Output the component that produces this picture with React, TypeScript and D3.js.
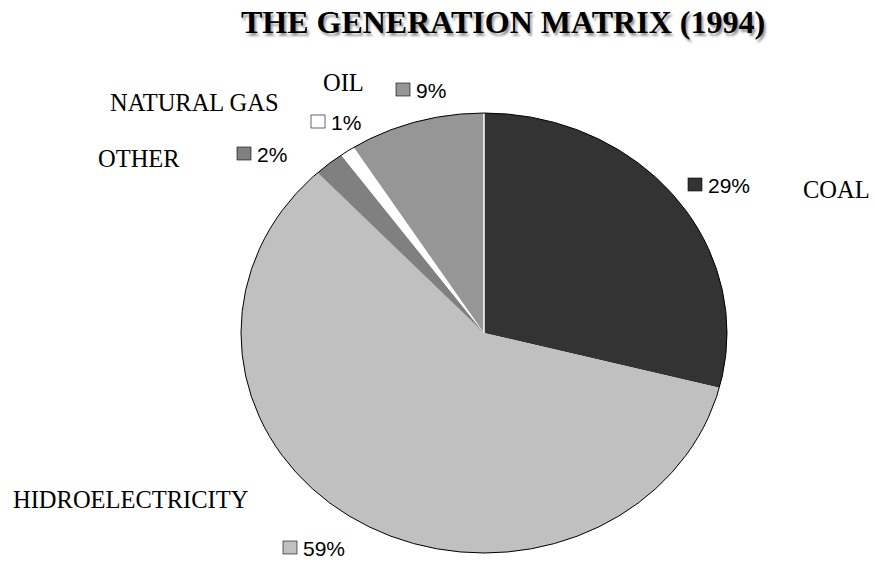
import * as d3 from 'd3';

// generation matrix shares, clockwise from 12 o'clock
const sources = ['COAL', 'HIDROELECTRICITY', 'OTHER', 'NATURAL GAS', 'OIL'];
const shares = [29, 59, 2, 1, 9];
const fills = ['#333333', '#c0c0c0', '#808080', '#ffffff', '#969696'];

// label layout: name baseline position, legend box position
const nameAt: [number, number][] = [[803, 198], [13, 508], [98, 167], [110, 111], [323, 91]];
const boxAt: [number, number][] = [[688, 178], [283, 541], [237, 147], [311, 115], [396, 83]];

const W = 875;
const H = 564;
const cx = 484;
const cy = 333;
const rx = 243;
const ry = 220;

export default function App() {
  const pie = d3.pie<number>().sort(null).value(d => d);
  const arcs = pie(shares);
  const arc = d3.arc<d3.PieArcDatum<number>>().innerRadius(0).outerRadius(ry);
  const sx = rx / ry;

  return (
    <svg width={W} height={H} style={{ position: 'absolute', left: 0, top: 0 }}>
      <defs>
        <filter id="soft" x="-5%" y="-20%" width="110%" height="140%">
          <feGaussianBlur stdDeviation="0.8" />
        </filter>
      </defs>
      <rect width={W} height={H} fill="#fff" />
      <g fontFamily="'Liberation Serif', 'Times New Roman', serif" fontWeight="bold" fontSize={32} textAnchor="middle">
        <text x={505} y={35.5} fill="#999" filter="url(#soft)">THE GENERATION MATRIX (1994)</text>
        <text x={503} y={33} fill="#000">THE GENERATION MATRIX (1994)</text>
      </g>

      <g transform={`translate(${cx},${cy}) scale(${sx},1)`}>
        {arcs.map((a, i) => (
          <path key={sources[i]} d={arc(a) ?? ''} fill={fills[i]} />
        ))}
        <line x1={0} y1={0} x2={0} y2={-ry} stroke="#fff" strokeWidth={1.5} vectorEffect="non-scaling-stroke" />
        <ellipse cx={0} cy={0} rx={ry} ry={ry} fill="none" stroke="#000" strokeWidth={1} vectorEffect="non-scaling-stroke" />
      </g>

      {sources.map((s, i) => (
        <g key={s}>
          <text x={nameAt[i][0]} y={nameAt[i][1]} fontFamily="'Liberation Serif', 'Times New Roman', serif" fontSize={24.5}>{s}</text>
          <rect x={boxAt[i][0]} y={boxAt[i][1]} width={14} height={13} fill={fills[i]} stroke="#000" strokeWidth={0.6} />
          <text x={boxAt[i][0] + 20} y={boxAt[i][1] + 15} fontFamily="'Liberation Sans', Arial, sans-serif" fontSize={21}>{shares[i]}%</text>
        </g>
      ))}
    </svg>
  );
}
